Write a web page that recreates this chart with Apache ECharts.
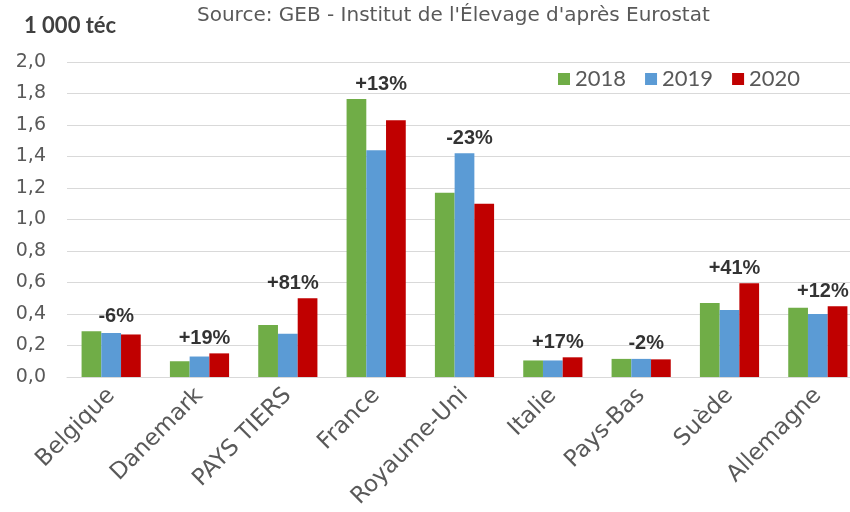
<!DOCTYPE html>
<html>
<head>
<meta charset="utf-8">
<script src="https://cdn.jsdelivr.net/npm/echarts@6/dist/echarts.min.js"></script>
<style>
  html, body { margin: 0; padding: 0; background: #fff; }
  #chart { width: 850px; height: 512px; }
</style>
</head>
<body>
<div id="chart"></div>
<script>
// Exportations par pays (1 000 téc)
const pays = ['Belgique', 'Danemark', 'PAYS TIERS', 'France', 'Royaume-Uni', 'Italie', 'Pays-Bas', 'Suède', 'Allemagne'];
const v2018 = [0.29, 0.10, 0.33, 1.765, 1.17, 0.105, 0.115, 0.47, 0.44];
const v2019 = [0.28, 0.13, 0.275, 1.44, 1.42, 0.105, 0.115, 0.425, 0.40];
const v2020 = [0.27, 0.15, 0.50, 1.63, 1.10, 0.125, 0.112, 0.595, 0.45];
const evolution = ['-6%', '+19%', '+81%', '+13%', '-23%', '+17%', '-2%', '+41%', '+12%'];

const maxParPays = pays.map((p, i) => Math.max(v2018[i], v2019[i], v2020[i]));

const txtFont = '"DejaVu Sans", sans-serif';

const myChart = echarts.init(document.getElementById('chart'));

const option = {
    animation: false,
    title: [
        {
            text: '1 000 téc',
            left: 19,
            top: 10,
            textStyle: { fontSize: 22, fontWeight: 'bold', color: '#404040', fontFamily: 'Lato, sans-serif' }
        },
        {
            text: "Source: GEB - Institut de l'Élevage d'après Eurostat",
            left: 192,
            top: 1,
            textStyle: { fontSize: 20, fontWeight: 'normal', color: '#595959', fontFamily: txtFont }
        }
    ],
    legend: {
        data: ['2018', '2019', '2020'],
        left: 553,
        top: 63,
        icon: 'rect',
        itemWidth: 12,
        itemHeight: 12,
        itemGap: 19,
        textStyle: { fontSize: 22, color: '#595959', fontFamily: 'Lato, sans-serif' }
    },
    grid: {
        left: 67,
        right: -12,
        top: 62,
        bottom: 135,
        containLabel: false,
        outerBoundsMode: 'none'
    },
    xAxis: {
        type: 'category',
        data: pays,
        axisLine: { lineStyle: { color: '#d9d9d9', width: 1 } },
        axisTick: { show: false },
        axisLabel: {
            rotate: 45,
            interval: 0,
            margin: 15,
            fontSize: 23,
            color: '#595959',
            fontFamily: txtFont
        }
    },
    yAxis: {
        type: 'value',
        min: 0,
        max: 2,
        interval: 0.2,
        axisLine: { show: false },
        axisTick: { show: false },
        splitLine: { lineStyle: { color: '#d9d9d9', width: 1 } },
        axisLabel: {
            margin: 21,
            fontSize: 19,
            color: '#595959',
            fontFamily: txtFont,
            formatter: function (v) { return v.toFixed(1).replace('.', ','); }
        }
    },
    series: [
        {
            name: '2018',
            type: 'bar',
            data: v2018,
            barGap: '0%',
            barCategoryGap: '33%',
            itemStyle: { color: '#70ad47' }
        },
        {
            name: '2019',
            type: 'bar',
            data: v2019,
            itemStyle: { color: '#5b9bd5' }
        },
        {
            name: '2020',
            type: 'bar',
            data: v2020,
            itemStyle: { color: '#c00000' }
        },
        {
            name: 'evolution',
            type: 'scatter',
            data: maxParPays,
            symbolSize: 0,
            silent: true,
            label: {
                show: true,
                position: 'top',
                distance: 5,
                offset: [5, 0],
                fontSize: 20,
                fontWeight: 'bold',
                color: '#000',
                fontFamily: '"Liberation Sans", Arial, sans-serif',
                formatter: function (p) { return evolution[p.dataIndex]; }
            }
        }
    ]
};

myChart.setOption(option);

window.addEventListener('resize', function () {
    myChart.resize();
});
</script>
</body>
</html>
